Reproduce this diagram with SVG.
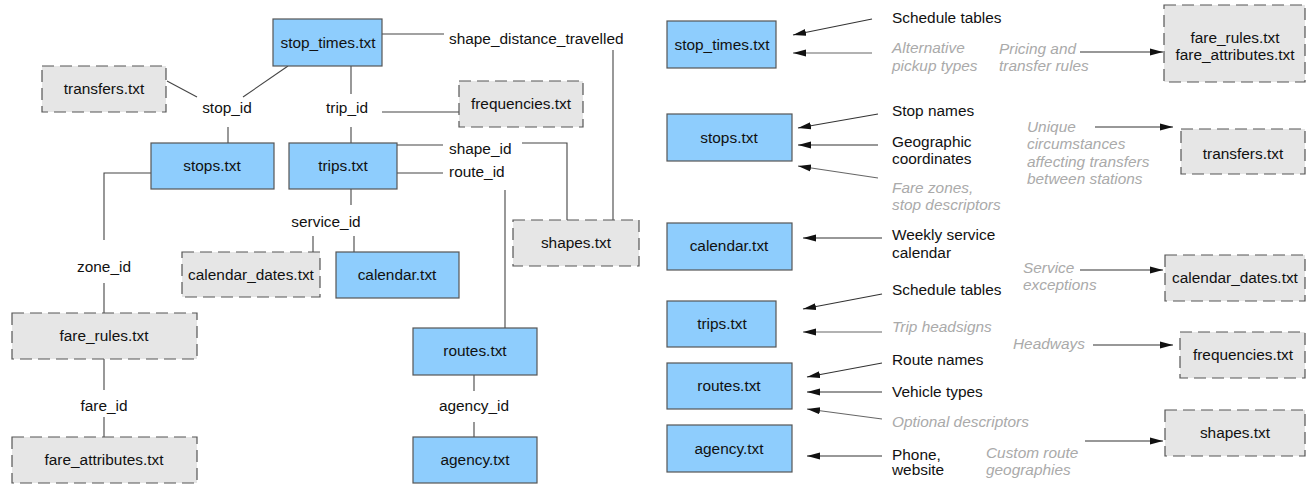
<svg xmlns="http://www.w3.org/2000/svg" width="1314" height="484" viewBox="0 0 1314 484">
<defs>
<style>
text{font-family:"Liberation Sans",Arial,sans-serif;font-size:15.4px;fill:#111}
.c{text-anchor:middle}
.g{fill:#aaa;font-style:italic}
.blue{fill:#8ecdfd;stroke:#555;stroke-width:1.2}
.dash{fill:#e6e6e6;stroke:#555;stroke-width:1.2;stroke-dasharray:12 6}
.ln{fill:none;stroke:#444;stroke-width:1.1}
.ar{fill:none;stroke:#333;stroke-width:1.1;marker-end:url(#ah)}
.arg{fill:none;stroke:#666;stroke-width:1.1;marker-end:url(#ah)}
</style>
<marker id="ah" markerUnits="userSpaceOnUse" markerWidth="14" markerHeight="10" refX="13" refY="4" orient="auto">
<path d="M0,0.5 L13,4 L0,7.5 Z" fill="#111"/>
</marker>
</defs>
<rect width="1314" height="484" fill="#fff"/>

<g id="connectors">
<path class="ln" d="M288,66 L243,97"/>
<path class="ln" d="M167,81 L197,97"/>
<path class="ln" d="M228,127 L228,143"/>
<path class="ln" d="M351,66 L351,94"/>
<path class="ln" d="M351,127 L351,143"/>
<path class="ln" d="M382,112 L459,112"/>
<path class="ln" d="M382,34 L444,34"/>
<path class="ln" d="M613,50 L613,220"/>
<path class="ln" d="M397,145 L443,145"/>
<path class="ln" d="M522,143 L567,143 L567,220"/>
<path class="ln" d="M397,173 L443,173"/>
<path class="ln" d="M505,190 L505,328"/>
<path class="ln" d="M351,189 L351,205"/>
<path class="ln" d="M313,236 L313,252"/>
<path class="ln" d="M354,236 L354,252"/>
<path class="ln" d="M151,173 L104,173 L104,240"/>
<path class="ln" d="M104,283 L104,313"/>
<path class="ln" d="M104,359 L104,390"/>
<path class="ln" d="M104,417 L104,437"/>
<path class="ln" d="M474,375 L474,391"/>
<path class="ln" d="M474,422 L474,437"/>

<path class="ar" d="M872,19 L793,35"/>
<path class="arg" d="M872,53 L793,53"/>
<path class="ar" d="M878,114 L798,128"/>
<path class="ar" d="M878,145 L798,145"/>
<path class="arg" d="M878,178 L798,166"/>
<path class="ar" d="M882,238 L803,238"/>
<path class="ar" d="M882,294 L803,309"/>
<path class="arg" d="M882,332 L803,332"/>
<path class="ar" d="M882,363 L807,377"/>
<path class="ar" d="M882,392 L807,392"/>
<path class="arg" d="M882,419 L807,409"/>
<path class="ar" d="M882,456 L807,456"/>
<path class="ar" d="M1080,52 L1163,52"/>
<path class="ar" d="M1095,127 L1173,127"/>
<path class="ar" d="M1080,270 L1163,270"/>
<path class="ar" d="M1093,345 L1173,345"/>
<path class="ar" d="M1085,441 L1163,441"/>
</g>

<g id="keys">
<text class="c" x="227" y="113">stop_id</text>
<text class="c" x="347" y="113">trip_id</text>
<text x="449" y="44">shape_distance_travelled</text>
<text x="449" y="154">shape_id</text>
<text x="449" y="177">route_id</text>
<text class="c" x="326" y="227">service_id</text>
<text class="c" x="104" y="272">zone_id</text>
<text class="c" x="104" y="411">fare_id</text>
<text class="c" x="474" y="411">agency_id</text>
</g>

<g id="L_stop_times"><rect class="blue" x="273" y="19" width="109" height="47"/><text class="c" x="328" y="48">stop_times.txt</text></g>
<g id="L_transfers"><rect class="dash" x="42" y="66" width="124" height="46"/><text class="c" x="104" y="94">transfers.txt</text></g>
<g id="L_stops"><rect class="blue" x="151" y="143" width="123" height="46"/><text class="c" x="212" y="171">stops.txt</text></g>
<g id="L_trips"><rect class="blue" x="289" y="143" width="108" height="46"/><text class="c" x="343" y="171">trips.txt</text></g>
<g id="L_frequencies"><rect class="dash" x="459" y="81" width="124" height="46"/><text class="c" x="521" y="109">frequencies.txt</text></g>
<g id="L_shapes"><rect class="dash" x="513" y="220" width="126" height="46"/><text class="c" x="576" y="248">shapes.txt</text></g>
<g id="L_calendar_dates"><rect class="dash" x="182" y="252" width="138" height="45"/><text class="c" x="251" y="280">calendar_dates.txt</text></g>
<g id="L_calendar"><rect class="blue" x="336" y="252" width="123" height="46"/><text class="c" x="397" y="280">calendar.txt</text></g>
<g id="L_fare_rules"><rect class="dash" x="12" y="313" width="185" height="46"/><text class="c" x="104" y="341">fare_rules.txt</text></g>
<g id="L_fare_attributes"><rect class="dash" x="12" y="437" width="185" height="46"/><text class="c" x="104" y="465">fare_attributes.txt</text></g>
<g id="L_routes"><rect class="blue" x="413" y="328" width="124" height="47"/><text class="c" x="475" y="356">routes.txt</text></g>
<g id="L_agency"><rect class="blue" x="413" y="437" width="124" height="46"/><text class="c" x="475" y="465">agency.txt</text></g>

<g id="R_stop_times"><rect class="blue" x="667" y="21" width="109" height="47"/><text class="c" x="722" y="50">stop_times.txt</text></g>
<g id="R_stops"><rect class="blue" x="667" y="114" width="125" height="47"/><text class="c" x="729" y="143">stops.txt</text></g>
<g id="R_calendar"><rect class="blue" x="667" y="223" width="125" height="47"/><text class="c" x="729" y="251">calendar.txt</text></g>
<g id="R_trips"><rect class="blue" x="667" y="301" width="109" height="46"/><text class="c" x="722" y="329">trips.txt</text></g>
<g id="R_routes"><rect class="blue" x="667" y="363" width="125" height="46"/><text class="c" x="729" y="391">routes.txt</text></g>
<g id="R_agency"><rect class="blue" x="667" y="425" width="125" height="47"/><text class="c" x="729" y="454">agency.txt</text></g>
<g id="R_fare"><rect class="dash" x="1164" y="5" width="141" height="77"/><text class="c" x="1235" y="43">fare_rules.txt</text><text class="c" x="1235" y="60">fare_attributes.txt</text></g>
<g id="R_transfers"><rect class="dash" x="1181" y="129" width="124" height="45"/><text class="c" x="1243" y="159">transfers.txt</text></g>
<g id="R_calendar_dates"><rect class="dash" x="1165" y="255" width="140" height="46"/><text class="c" x="1235" y="283">calendar_dates.txt</text></g>
<g id="R_frequencies"><rect class="dash" x="1180" y="332" width="125" height="46"/><text class="c" x="1243" y="360">frequencies.txt</text></g>
<g id="R_shapes"><rect class="dash" x="1165" y="410" width="140" height="46"/><text class="c" x="1235" y="438">shapes.txt</text></g>

<g id="annotations">
<text x="892" y="23">Schedule tables</text>
<text class="g" x="892" y="53">Alternative</text>
<text class="g" x="892" y="71">pickup types</text>
<text x="892" y="116">Stop names</text>
<text x="892" y="147">Geographic</text>
<text x="892" y="164">coordinates</text>
<text class="g" x="892" y="193">Fare zones,</text>
<text class="g" x="892" y="210">stop descriptors</text>
<text x="892" y="240">Weekly service</text>
<text x="892" y="258">calendar</text>
<text x="892" y="295">Schedule tables</text>
<text class="g" x="892" y="332">Trip headsigns</text>
<text x="892" y="365">Route names</text>
<text x="892" y="397">Vehicle types</text>
<text class="g" x="892" y="427">Optional descriptors</text>
<text x="892" y="460">Phone,</text>
<text x="892" y="475">website</text>
<text class="g" x="999" y="54">Pricing and</text>
<text class="g" x="999" y="71">transfer rules</text>
<text class="g" x="1027" y="132">Unique</text>
<text class="g" x="1027" y="149">circumstances</text>
<text class="g" x="1027" y="167">affecting transfers</text>
<text class="g" x="1027" y="184">between stations</text>
<text class="g" x="1023" y="273">Service</text>
<text class="g" x="1023" y="290">exceptions</text>
<text class="g" x="1013" y="349">Headways</text>
<text class="g" x="986" y="458">Custom route</text>
<text class="g" x="986" y="475">geographies</text>
</g>
</svg>
